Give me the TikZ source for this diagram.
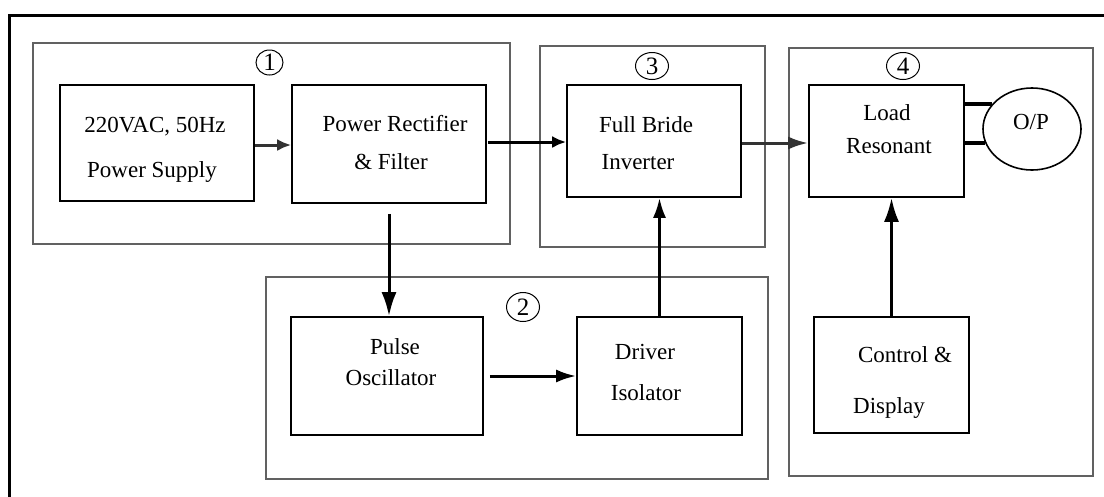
\documentclass[tikz,border=0pt]{standalone}
\usepackage{fontspec}
\setmainfont{Liberation Serif}
\usetikzlibrary{arrows.meta,shapes.geometric}
\begin{document}
\begin{tikzpicture}[x=1pt,y=-1pt,
  box/.style={draw=black,line width=1.6pt,inner sep=0pt},
  grp/.style={draw=black!62,line width=1.6pt,inner sep=0pt},
  txt/.style={inner sep=0pt,font=\fontsize{23}{27}\selectfont},
  num/.style={draw=black,ellipse,line width=1pt,inner sep=0pt,font=\fontsize{25}{28}\selectfont},
  arrS/.style={line width=3pt,-{Latex[length=14pt,width=12pt]}},
  arrM/.style={line width=3pt,-{Latex[length=20pt,width=13pt]}},
  arrL/.style={line width=3pt,-{Latex[length=24pt,width=15pt]}},
  opline/.style={line width=4pt}]
\useasboundingbox (0,0) rectangle (1104,496);
% outer frame
\draw[line width=3pt] (9,510) -- (9,15) -- (1115,15);
% groups
\node[grp,minimum width=477pt,minimum height=201pt] (g1) at (271.5,143.5) {};
\node[grp,minimum width=225pt,minimum height=201pt] (g3) at (652.5,146.5) {};
\node[grp,minimum width=304pt,minimum height=428pt] (g4) at (941,262) {};
\node[grp,minimum width=502pt,minimum height=202pt] (g2) at (517,378) {};
% group numbers
\node[num,minimum width=27pt,minimum height=25pt] (n1) at (269.5,62.5) {1};
\node[num,minimum width=33pt,minimum height=29pt] (n2) at (523,307) {2};
\node[num,minimum width=33pt,minimum height=27pt] (n3) at (652,66) {3};
\node[num,minimum width=33pt,minimum height=27pt] (n4) at (903,66) {4};
% boxes
\node[box,minimum width=194pt,minimum height=116pt] (ps) at (157,143) {};
\node[box,minimum width=194pt,minimum height=118pt] (pr) at (389,144) {};
\node[box,minimum width=174pt,minimum height=112pt] (fb) at (654,141) {};
\node[box,minimum width=155pt,minimum height=112pt] (lr) at (886.5,141) {};
\node[box,minimum width=192pt,minimum height=118pt] (po) at (387,376) {};
\node[box,minimum width=165pt,minimum height=118pt] (di) at (659.5,376) {};
\node[box,minimum width=155pt,minimum height=116pt] (cd) at (891.5,375) {};
\node[box,ellipse,minimum width=98pt,minimum height=82pt] (op) at (1032,129) {};
% texts
\node[txt] (t1) at (155,127) {220VAC, 50Hz};
\node[txt] (t2) at (152,172) {Power Supply};
\node[txt] (t3) at (395,124) {Power Rectifier};
\node[txt] (t4) at (391,162) {\& Filter};
\node[txt] (t5) at (646,125) {Full Bride};
\node[txt] (t6) at (638,162) {Inverter};
\node[txt] (t7) at (887,113) {Load};
\node[txt] (t8) at (889,146) {Resonant};
\node[txt] (t9) at (1031,122) {O/P};
\node[txt] (t10) at (395,347) {Pulse};
\node[txt] (t11) at (391,378) {Oscillator};
\node[txt] (t12) at (645,352) {Driver};
\node[txt] (t13) at (646,393) {Isolator};
\node[txt] (t14) at (905,355) {Control \&};
\node[txt] (t15) at (889,408) {Display};
% connectors
\draw[arrS,draw=black!80] ([yshift=-2pt]ps.east) -- ([yshift=-2pt]ps.east -| pr.west);
\draw[arrS] ([xshift=1pt,yshift=2pt]pr.east) -- ([yshift=2pt]pr.east -| fb.west);
\draw[arrM,draw=black!80] ([yshift=-2pt]fb.east) -- ([yshift=-2pt]fb.east -| lr.west);
\draw[arrM] ([xshift=6pt]po.east) -- (po.east -| di.west);
\draw[arrL] ([yshift=-10pt]pr.south) -- (pr.south |- po.north);
\draw[arrM] (di.north) -- (di.north |- fb.south);
\draw[arrL] (cd.north) -- (cd.north |- lr.south);
\draw[opline] (lr.east |- op.148) -- (op.148);
\draw[opline] (lr.east |- op.197) -- (op.197);
\end{tikzpicture}
\end{document}
